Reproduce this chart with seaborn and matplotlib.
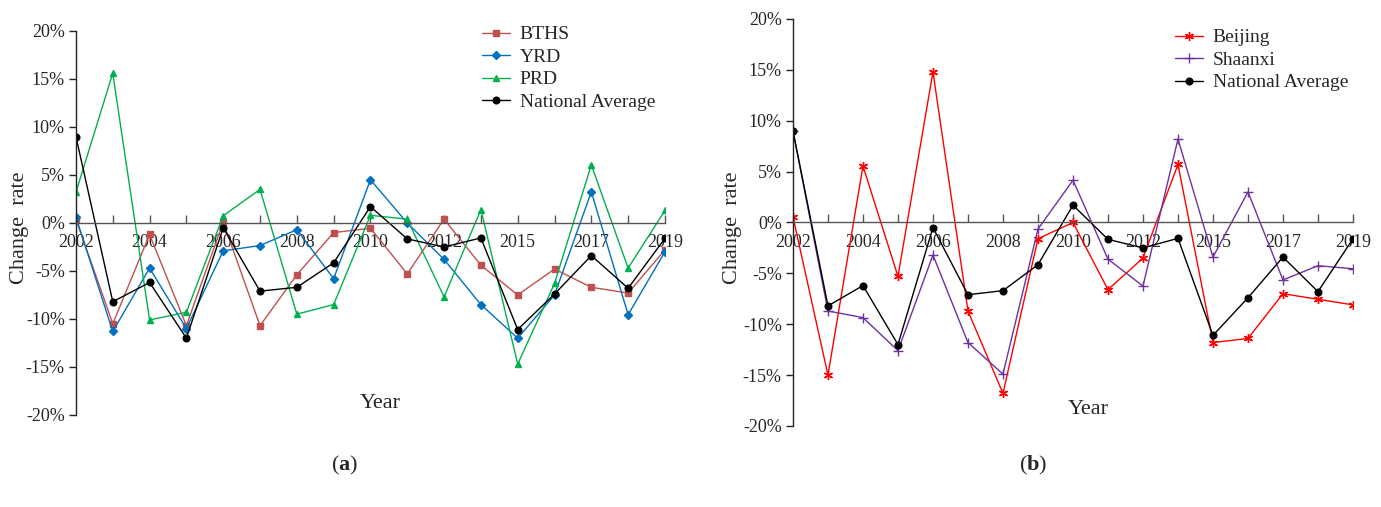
import matplotlib
matplotlib.use("Agg")
import matplotlib.pyplot as plt
import seaborn as sns

# ---------------- data (change rate, %) ----------------
years = ["2002", "2003", "2004", "2005", "2006", "2007", "2008", "2009", "2010",
         "2011", "2012", "2013", "2015", "2016", "2017", "2018", "2019"]
shown_years = ["2002", "2004", "2006", "2008", "2010", "2012", "2015", "2017", "2019"]
y_ticks = [-20, -15, -10, -5, 0, 5, 10, 15, 20]

bths = [0.4, -10.5, -1.2, -10.7, 0.1, -10.7, -5.4, -1.0, -0.55, -5.3, 0.4, -4.4, -7.5, -4.8, -6.7, -7.3, -2.8]
yrd = [0.6, -11.3, -4.7, -11.0, -2.9, -2.35, -0.7, -5.8, 4.5, 0.0, -3.8, -8.5, -12.0, -7.5, 3.25, -9.55, -3.0]
prd = [3.2, 15.6, -10.1, -9.3, 0.75, 3.5, -9.5, -8.5, 0.8, 0.4, -7.7, 1.4, -14.7, -6.3, 6.05, -4.7, 1.3]
national = [9.0, -8.2, -6.2, -12.0, -0.5, -7.1, -6.7, -4.15, 1.7, -1.66, -2.5, -1.56, -11.1, -7.4, -3.4, -6.8, -1.6]
beijing = [0.55, -15.0, 5.55, -5.3, 14.8, -8.7, -16.8, -1.6, 0.0, -6.6, -3.5, 5.7, -11.8, -11.4, -7.0, -7.55, -8.1]
shaanxi = [9.0, -8.7, -9.35, -12.6, -3.2, -11.8, -14.9, -0.65, 4.15, -3.6, -6.25, 8.2, -3.4, 3.0, -5.65, -4.25, -4.55]

# ---------------- style ----------------
sns.set_theme(style="ticks")
plt.rcParams["font.family"] = ["Liberation Serif", "DejaVu Serif"]
plt.rcParams["mathtext.fontset"] = "custom"
plt.rcParams["mathtext.rm"] = "Liberation Serif"
plt.rcParams["mathtext.bf"] = "Liberation Serif:bold"

fig = plt.figure(figsize=(13.81, 5.07), dpi=100)
ax_a = fig.add_axes([0.0550, 0.1815, 0.4265, 0.7574])
ax_b = fig.add_axes([0.5742, 0.1598, 0.4055, 0.8028])

series_a = [
    ("BTHS", bths, "#C0504D", "s", 4.2, 1.0),
    ("YRD", yrd, "#0070C0", "D", 4.0, 1.0),
    ("PRD", prd, "#00B050", "^", 5.0, 1.0),
    ("National Average", national, "#000000", "o", 4.8, 1.0),
]
series_b = [
    ("Beijing", beijing, "#FF0000", (6, 2, 0), 6.5, 1.0),
    ("Shaanxi", shaanxi, "#7030A0", "+", 6.5, 1.0),
    ("National Average", national, "#000000", "o", 4.8, 1.0),
]


def draw(ax, series):
    for name, vals, color, marker, ms, mew in series:
        sns.lineplot(x=years, y=vals, ax=ax, color=color, marker=marker,
                     markersize=ms, markeredgecolor=color, markeredgewidth=mew,
                     linewidth=1.0, label=name, sort=False)
    n = len(years)
    ax.set_xlim(0, n - 1)
    ax.set_ylim(-20, 20)
    for s in ("top", "right"):
        ax.spines[s].set_visible(False)
    ax.spines["bottom"].set_position(("data", 0))
    ax.spines["bottom"].set_color("#555555")
    ax.spines["bottom"].set_linewidth(1.0)
    ax.spines["left"].set_color("#222222")
    ax.spines["left"].set_linewidth(1.0)
    ax.set_xticks(range(n))
    ax.set_xticklabels([y if y in shown_years else "" for y in years],
                       fontsize=13)
    ax.set_yticks(y_ticks)
    ax.set_yticklabels([f"{v}%" for v in y_ticks], fontsize=13)
    ax.tick_params(axis="x", direction="in", length=6, width=1.0,
                   color="#555555", pad=8)
    ax.tick_params(axis="y", direction="out", length=5, width=1.0,
                   color="#222222", pad=3)
    ax.set_xlabel("")
    ax.set_ylabel("")
    ax.grid(False)


draw(ax_a, series_a)
draw(ax_b, series_b)

ax_a.legend(loc="upper left", bbox_to_anchor=(474 / 1381, 1 - 18 / 507),
            bbox_transform=fig.transFigure, frameon=False, fontsize=14,
            handlelength=1.45, labelspacing=0.25, handletextpad=0.5,
            borderaxespad=0)
ax_b.legend(loc="upper left", bbox_to_anchor=(1167 / 1381, 1 - 21 / 507),
            bbox_transform=fig.transFigure, frameon=False, fontsize=14,
            handlelength=1.45, labelspacing=0.25, handletextpad=0.5,
            borderaxespad=0)

# axis titles
fig.text(20 / 1381, 1 - 228 / 507, "Change  rate", rotation=90,
         ha="center", va="center", fontsize=16)
fig.text(733 / 1381, 1 - 228 / 507, "Change  rate", rotation=90,
         ha="center", va="center", fontsize=16)
fig.text(380 / 1381, 1 - 403 / 507, "Year", ha="center", va="center", fontsize=16)
fig.text(1088 / 1381, 1 - 409 / 507, "Year", ha="center", va="center", fontsize=16)

# panel captions
fig.text(345 / 1381, 1 - 465 / 507, r"($\mathbf{a}$)", ha="center", va="center",
         fontsize=16)
fig.text(1033 / 1381, 1 - 465 / 507, r"($\mathbf{b}$)", ha="center", va="center",
         fontsize=16)

fig.savefig("out.png", dpi=100)
